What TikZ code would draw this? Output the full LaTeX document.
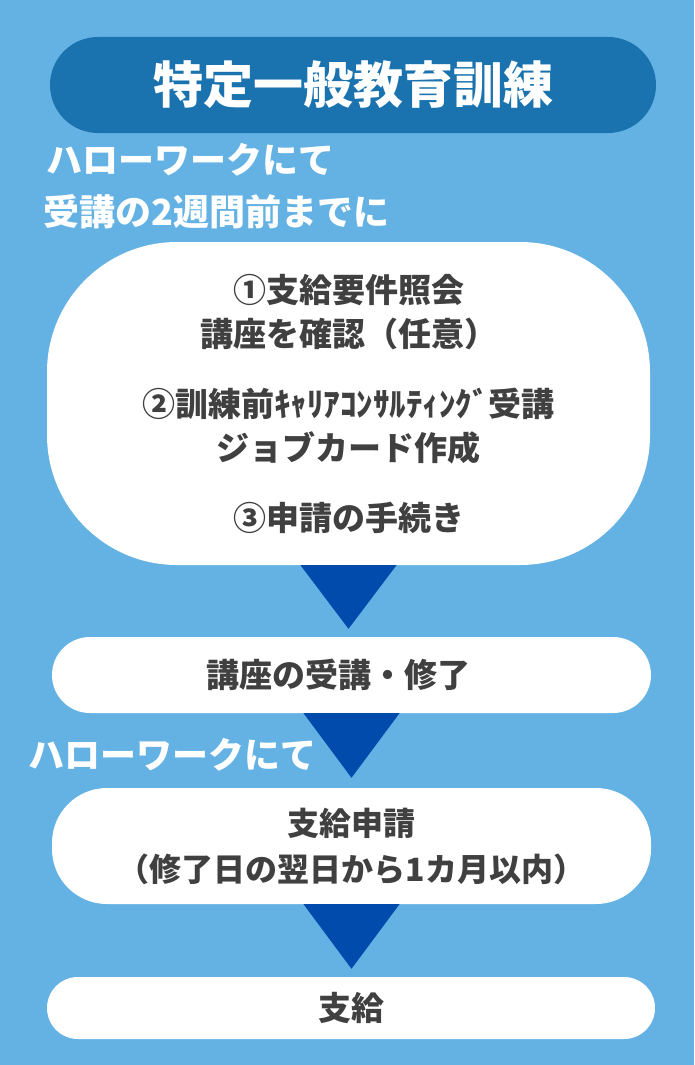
\documentclass[tikz,border=0pt]{standalone}
\usepackage{fontspec}
\newfontfamily\jp{Noto Sans CJK JP}
\usetikzlibrary{calc}
\definecolor{bg}{HTML}{64B2E4}
\definecolor{titleblue}{HTML}{1A73AE}
\definecolor{tri}{HTML}{004BAC}
\definecolor{txt}{HTML}{404040}
\tikzset{
  pill/.style={fill=white, draw=none, text=txt, font=\jp\bfseries\fontsize{33}{44.5}\selectfont, align=center, inner sep=0pt},
  hw/.style={text=white, font=\jp\bfseries\fontsize{36}{44}\selectfont, anchor=west, inner sep=0pt},
  arrowtri/.style={fill=tri, draw=none}
}
\begin{document}
\begin{tikzpicture}[x=1pt,y=-1pt]
\fill[bg] (0,0) rectangle (694,1065);
\useasboundingbox (0,0) rectangle (694,1065);

\node[fill=titleblue, rounded corners=48, minimum width=606, minimum height=96, inner sep=0pt,
      text=white, font=\jp\bfseries\fontsize{50}{56}\selectfont] (title) at (353,85) {特定一般教育訓練};

\node[hw] (hw1) at (46,160) {ハローワークにて};
\node[hw] (hw2) at (43,212) {受講の2週間前までに};

\node[pill, rounded corners=130, minimum width=603, minimum height=323] (s1) at (348.5,403.5)
  {①支給要件照会\\講座を確認（任意）\\[25pt]②訓練前ｷｬﾘｱｺﾝｻﾙﾃｨﾝｸﾞ受講\\ジョブカード作成\\[25pt]③申請の手続き};

\node[pill, rounded corners=38, minimum width=599, minimum height=76] (s2) at (351.5,675) {\hspace*{-26pt}講座の受講・修了};

\node[hw] (hw3) at (28,755) {ハローワークにて};

\node[pill, rounded corners=55, minimum width=599, minimum height=116,
      font=\jp\bfseries\fontsize{32}{46}\selectfont] (s3) at (351.5,846) {支給申請\\（修了日の翌日から1カ月以内）};

\node[pill, rounded corners=31, minimum width=608, minimum height=62] (s4) at (351,1008) {支給};

\fill[arrowtri] ($(s1.south)+(-48,0)$) -- ($(s1.south)+(48,0)$) -- ($(s1.south |- s2.north)+(0,-8)$) -- cycle;
\fill[arrowtri] ($(s2.south)+(-48,0)$) -- ($(s2.south)+(48,0)$) -- ($(s2.south |- s3.north)+(0,-10)$) -- cycle;
\fill[arrowtri] ($(s3.south)+(-48,0)$) -- ($(s3.south)+(48,0)$) -- ($(s3.south |- s4.north)+(0,-8)$) -- cycle;
\end{tikzpicture}
\end{document}
